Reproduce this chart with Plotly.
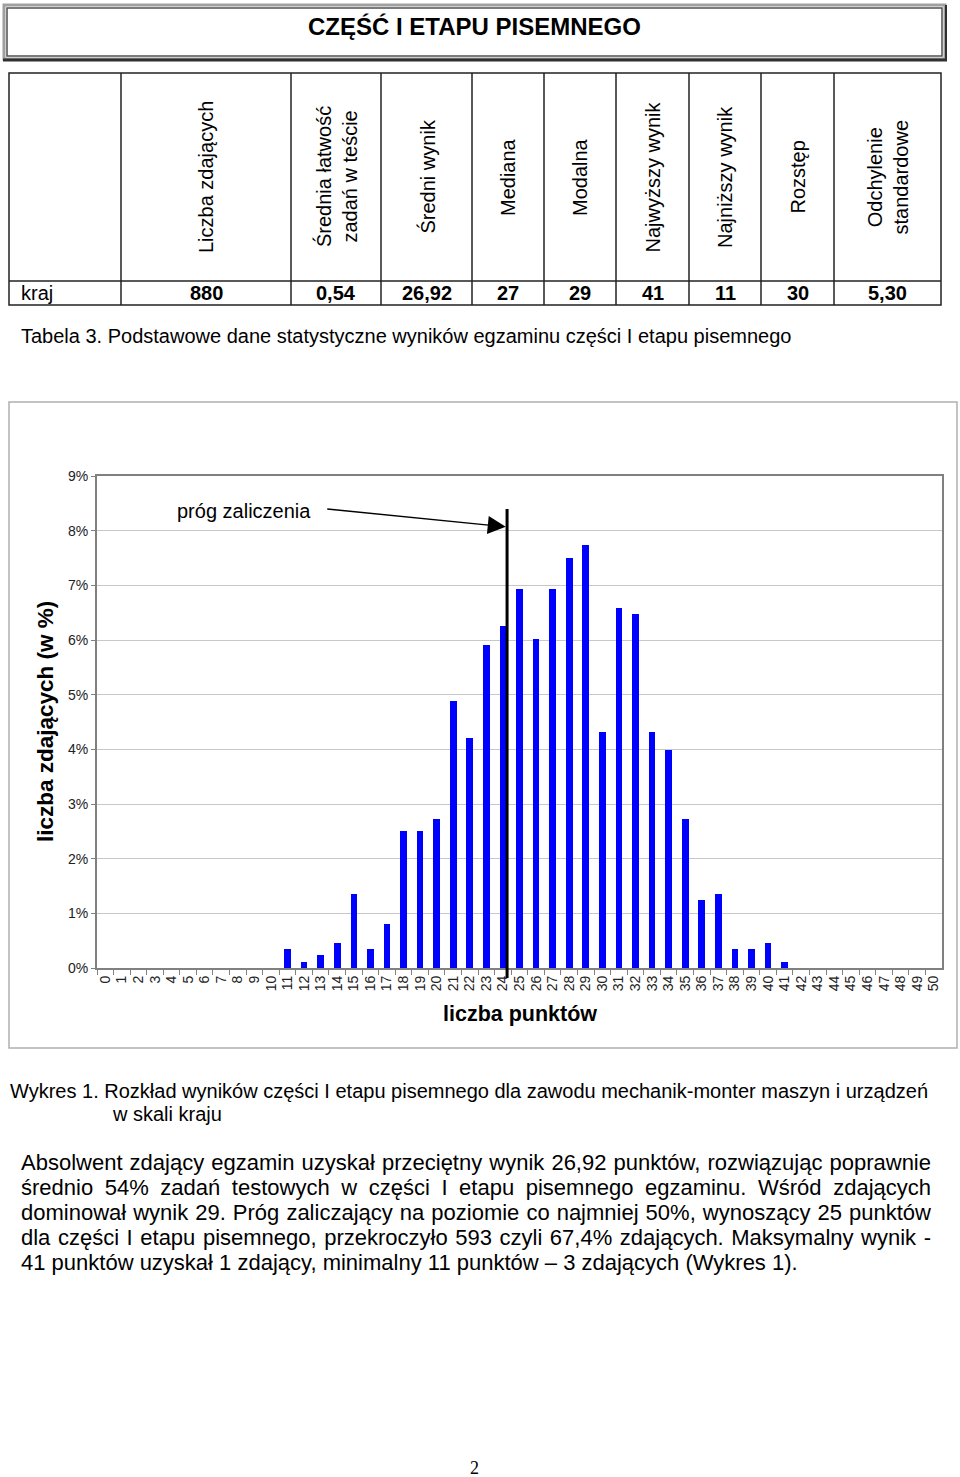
import json
import plotly.graph_objects as go

# ---------------- data ----------------
page_title = "CZĘŚĆ I ETAPU PISEMNEGO"
table_headers = ["Liczba zdających", "Średnia łatwość<br>zadań w teście", "Średni wynik",
                 "Mediana", "Modalna", "Najwyższy wynik", "Najniższy wynik",
                 "Rozstęp", "Odchylenie<br>standardowe"]
table_row_label = "kraj"
table_values = ["880", "0,54", "26,92", "27", "29", "41", "11", "30", "5,30"]
table_caption = "Tabela 3. Podstawowe dane statystyczne wyników egzaminu części I etapu pisemnego"

points = [str(i) for i in range(51)]
percent = [0, 0, 0, 0, 0, 0, 0, 0, 0, 0, 0,
           0.34, 0.11, 0.23, 0.45, 1.36, 0.34, 0.80, 2.50, 2.50, 2.73,
           4.89, 4.20, 5.91, 6.25, 6.93, 6.02, 6.93, 7.50, 7.73, 4.32,
           6.59, 6.48, 4.32, 3.98, 2.73, 1.25, 1.36, 0.34, 0.34, 0.45,
           0.11, 0, 0, 0, 0, 0, 0, 0, 0, 0]
y_ticks = [0, 1, 2, 3, 4, 5, 6, 7, 8, 9]
threshold_x = 24.25          # position of "próg zaliczenia" line (category index)
arrow_tip_y = 8.07
x_title = "liczba punktów"
y_title = "liczba zdających (w %)"
threshold_label = "próg zaliczenia"

chart_caption_1 = "Wykres 1. Rozkład wyników części I etapu pisemnego dla zawodu mechanik-monter maszyn i urządzeń"
chart_caption_2 = "w skali kraju"
paragraph = [
    "Absolwent zdający egzamin uzyskał przeciętny wynik 26,92 punktów, rozwiązując poprawnie",
    "średnio 54% zadań testowych w części I etapu pisemnego egzaminu. Wśród zdających",
    "dominował wynik 29. Próg zaliczający na poziomie co najmniej 50%, wynoszący 25 punktów",
    "dla części I etapu pisemnego, przekroczyło 593 czyli 67,4% zdających. Maksymalny wynik -",
    "41 punktów uzyskał 1 zdający, minimalny 11 punktów – 3 zdających (Wykres 1).",
]
page_number = "2"

# ---------------- layout helpers ----------------
W, H = 960, 1477
FONT = "Arial, Liberation Sans, sans-serif"


def px(x):
    return x / W


def py(y):
    return 1 - y / H


shapes = []
annotations = []


def rect(x0, y0, x1, y1, color, width):
    shapes.append(dict(type="rect", xref="paper", yref="paper",
                       x0=px(x0), x1=px(x1), y0=py(y1), y1=py(y0),
                       line=dict(color=color, width=width), layer="above"))


def line(x0, y0, x1, y1, color, width):
    shapes.append(dict(type="line", xref="paper", yref="paper",
                       x0=px(x0), x1=px(x1), y0=py(y0), y1=py(y1),
                       line=dict(color=color, width=width), layer="above"))


def text(x, y, s, size, bold=False, xanchor="center", angle=0, family=FONT, color="#000"):
    if bold:
        s = "<b>" + s + "</b>"
    annotations.append(dict(xref="paper", yref="paper", x=px(x), y=py(y), text=s,
                            showarrow=False, xanchor=xanchor, yanchor="middle",
                            textangle=angle, font=dict(family=family, size=size, color=color)))


# ---------------- title box ----------------
rect(4, 5, 945, 59, "#a0a0a0", 3)
rect(7, 8, 942, 56, "#505050", 1.5)
line(3, 60, 947, 60, "#303030", 3)
line(946, 5, 946, 61, "#303030", 2)
text(474, 26, page_title, 24, bold=True)

# ---------------- table ----------------
col_x = [9, 121, 291, 381, 472, 544, 616, 689, 761, 834, 941]
t_top, t_mid, t_bot = 73, 281, 305
rect(col_x[0], t_top, col_x[-1], t_bot, "#222", 1.5)
line(col_x[0], t_mid, col_x[-1], t_mid, "#222", 1.5)
for cx in col_x[1:-1]:
    line(cx, t_top, cx, t_bot, "#222", 1.5)
for i, h in enumerate(table_headers):
    cx = (col_x[i + 1] + col_x[i + 2]) / 2
    text(cx, 177, h, 20, angle=-90)
    text(cx, 293, table_values[i], 20, bold=True)
text(19, 293, table_row_label, 20, xanchor="left")
text(19, 336, table_caption, 20, xanchor="left")

# ---------------- chart frame ----------------
rect(9, 402, 957, 1048, "#b0b0b0", 1.5)

plot_l, plot_r, plot_t, plot_b = 97, 942, 476, 968

fig = go.Figure()
fig.add_trace(go.Bar(x=points, y=percent, width=0.4,
                     marker=dict(color="#0000FF", line=dict(width=0)),
                     hoverinfo="x+y"))

# threshold line
shapes.append(dict(type="line", xref="x", yref="paper",
                   x0=threshold_x, x1=threshold_x, y0=py(978), y1=py(509),
                   line=dict(color="#000", width=3), layer="above"))
annotations.append(dict(xref="x", yref="y", x=threshold_x - 0.08, y=arrow_tip_y,
                        text="", showarrow=True, arrowhead=2, arrowsize=2.4,
                        arrowwidth=1.5, arrowcolor="#000",
                        axref="pixel", ayref="pixel", ax=-180, ay=-18))
text(244, 511, threshold_label, 20, xanchor="center")

# axis titles
text(45, 722, y_title, 22.5, bold=True, angle=-90)
text(520, 1014, x_title, 21.5, bold=True)

# captions
text(8, 1091, chart_caption_1, 20, xanchor="left")
text(110, 1114, chart_caption_2, 20, xanchor="left")
for i, ln in enumerate(paragraph):
    text(19, 1162 + i * 25.2, ln, 22, xanchor="left")
text(474, 1468, page_number, 18, family="Times New Roman, Liberation Serif, serif")

fig.update_layout(
    width=W, height=H, margin=dict(l=0, r=0, t=0, b=0),
    paper_bgcolor="white", plot_bgcolor="white", showlegend=False,
    font=dict(family=FONT, color="#000"),
    shapes=shapes, annotations=annotations, bargap=0,
    xaxis=dict(domain=[px(plot_l), px(plot_r)], type="category",
               categoryorder="array", categoryarray=points,
               tickmode="linear", tick0=0, dtick=1,
               tickson="boundaries", ticks="outside", ticklen=5, tickcolor="#808080",
               tickwidth=1, tickangle=-90, tickfont=dict(size=14, color="#222"),
               showline=True, linecolor="#808080", linewidth=2, mirror=True,
               showgrid=False, automargin=False, fixedrange=True),
    yaxis=dict(domain=[py(plot_b), py(plot_t)], range=[0, 9], tickvals=y_ticks,
               ticktext=[f"{v}%" for v in y_ticks], ticks="outside", ticklen=4,
               tickcolor="#808080", tickfont=dict(size=14, color="#222"),
               showline=True, linecolor="#808080", linewidth=2, mirror=True,
               showgrid=True, gridcolor="#c8c8c8", gridwidth=1, zeroline=False,
               automargin=False, fixedrange=True),
)

# justify paragraph lines (all but the last) to the text block width
justify_lines = json.dumps(paragraph[:-1])
post = """
document.body.style.margin='0';document.body.style.overflow='hidden';
(function(){
  var lines = %s; var target = 910;
  function run(){
    var done = 0;
    document.querySelectorAll('text.annotation-text').forEach(function(t){
      if (t.getAttribute('data-just')) { done++; return; }
      var s = t.textContent;
      if (lines.indexOf(s) < 0) return;
      var n = (s.match(/ /g) || []).length; if (!n) return;
      var w = t.getBBox().width;
      t.style.wordSpacing = ((target - w) / n) + 'px';
      var w2 = t.getBBox().width;
      var d = (w2 - w) / 2;
      var els = [t].concat(Array.prototype.slice.call(t.querySelectorAll('tspan[x]')));
      els.forEach(function(e){ if (e.hasAttribute('x')) e.setAttribute('x', parseFloat(e.getAttribute('x')) + d); });
      t.setAttribute('data-just', '1'); done++;
    });
    return done;
  }
  if (run() < lines.length) { setTimeout(run, 50); setTimeout(run, 300); }
})();
""" % justify_lines

fig.write_html("out.html", post_script=post, config={"displayModeBar": False})
